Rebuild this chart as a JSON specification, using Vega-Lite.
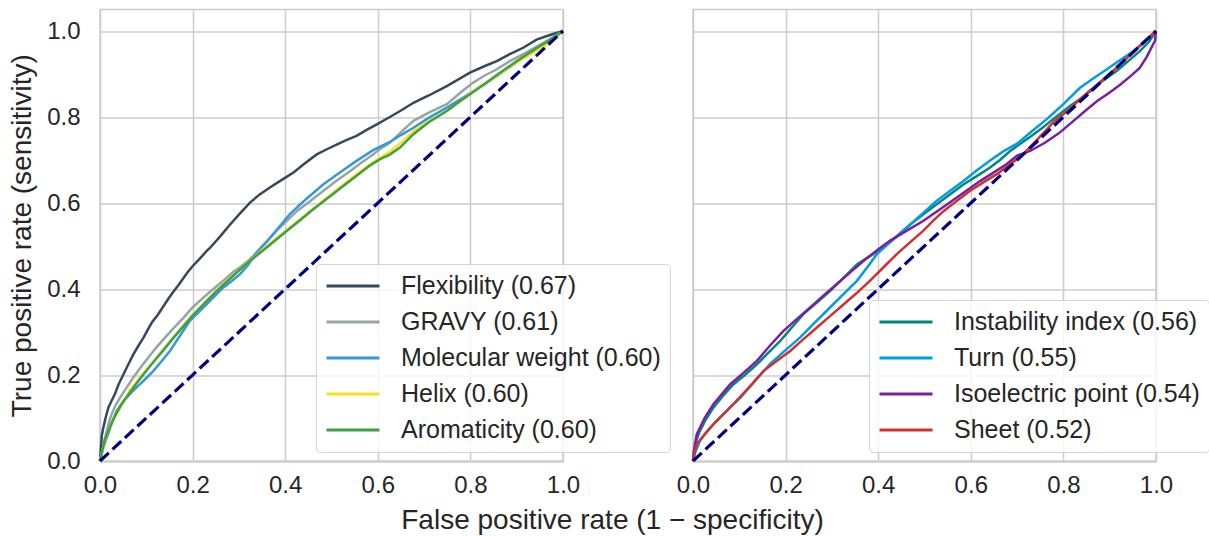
{
  "$schema": "https://vega.github.io/schema/vega-lite/v6.json",
  "padding": {"left": 7, "top": 8.5, "right": 0, "bottom": 0},
  "background": "white",
  "config": {
    "font": "Liberation Sans",
    "view": {"stroke": "#cccccc", "strokeWidth": 1.5},
    "axis": {"grid": true, "gridColor": "#cccccc", "gridWidth": 1.5, "domain": false, "ticks": false, "tickSize": 0, "labelFlush": false, "labelFontSize": 24, "labelColor": "#262626", "titleFontSize": 28, "titleColor": "#262626", "titleFontWeight": "normal", "labelFont": "Liberation Sans", "titleFont": "Liberation Sans"},
    "legend": {"symbolType": "stroke", "symbolSize": 2809, "symbolStrokeWidth": 3, "clipHeight": 26, "rowPadding": 10, "labelOffset": 20, "labelFontSize": 25, "labelColor": "#262626", "labelFont": "Liberation Sans", "padding": 9, "fillColor": "rgba(255,255,255,0.8)", "strokeColor": "#d4d4d4", "cornerRadius": 4, "labelLimit": 600}
  },
  "datasets": {
    "left": [
      {"s":"Flexibility (0.67)","x":0,"y":0},{"s":"Flexibility (0.67)","x":0.002,"y":0.03},{"s":"Flexibility (0.67)","x":0.004,"y":0.06},{"s":"Flexibility (0.67)","x":0.007,"y":0.077},{"s":"Flexibility (0.67)","x":0.012,"y":0.1},{"s":"Flexibility (0.67)","x":0.018,"y":0.124},{"s":"Flexibility (0.67)","x":0.025,"y":0.14},{"s":"Flexibility (0.67)","x":0.032,"y":0.155},{"s":"Flexibility (0.67)","x":0.04,"y":0.178},{"s":"Flexibility (0.67)","x":0.05,"y":0.2},{"s":"Flexibility (0.67)","x":0.06,"y":0.222},{"s":"Flexibility (0.67)","x":0.072,"y":0.248},{"s":"Flexibility (0.67)","x":0.083,"y":0.268},{"s":"Flexibility (0.67)","x":0.094,"y":0.287},{"s":"Flexibility (0.67)","x":0.103,"y":0.305},{"s":"Flexibility (0.67)","x":0.112,"y":0.322},{"s":"Flexibility (0.67)","x":0.125,"y":0.34},{"s":"Flexibility (0.67)","x":0.137,"y":0.36},{"s":"Flexibility (0.67)","x":0.148,"y":0.378},{"s":"Flexibility (0.67)","x":0.158,"y":0.393},{"s":"Flexibility (0.67)","x":0.17,"y":0.41},{"s":"Flexibility (0.67)","x":0.18,"y":0.425},{"s":"Flexibility (0.67)","x":0.19,"y":0.44},{"s":"Flexibility (0.67)","x":0.2,"y":0.453},{"s":"Flexibility (0.67)","x":0.215,"y":0.47},{"s":"Flexibility (0.67)","x":0.23,"y":0.488},{"s":"Flexibility (0.67)","x":0.238,"y":0.496},{"s":"Flexibility (0.67)","x":0.26,"y":0.523},{"s":"Flexibility (0.67)","x":0.281,"y":0.55},{"s":"Flexibility (0.67)","x":0.3,"y":0.573},{"s":"Flexibility (0.67)","x":0.324,"y":0.601},{"s":"Flexibility (0.67)","x":0.345,"y":0.62},{"s":"Flexibility (0.67)","x":0.367,"y":0.636},{"s":"Flexibility (0.67)","x":0.39,"y":0.652},{"s":"Flexibility (0.67)","x":0.418,"y":0.671},{"s":"Flexibility (0.67)","x":0.44,"y":0.69},{"s":"Flexibility (0.67)","x":0.468,"y":0.713},{"s":"Flexibility (0.67)","x":0.49,"y":0.725},{"s":"Flexibility (0.67)","x":0.511,"y":0.736},{"s":"Flexibility (0.67)","x":0.532,"y":0.746},{"s":"Flexibility (0.67)","x":0.554,"y":0.756},{"s":"Flexibility (0.67)","x":0.576,"y":0.77},{"s":"Flexibility (0.67)","x":0.598,"y":0.783},{"s":"Flexibility (0.67)","x":0.626,"y":0.8},{"s":"Flexibility (0.67)","x":0.65,"y":0.815},{"s":"Flexibility (0.67)","x":0.677,"y":0.833},{"s":"Flexibility (0.67)","x":0.71,"y":0.85},{"s":"Flexibility (0.67)","x":0.749,"y":0.872},{"s":"Flexibility (0.67)","x":0.775,"y":0.888},{"s":"Flexibility (0.67)","x":0.799,"y":0.903},{"s":"Flexibility (0.67)","x":0.83,"y":0.918},{"s":"Flexibility (0.67)","x":0.857,"y":0.93},{"s":"Flexibility (0.67)","x":0.885,"y":0.946},{"s":"Flexibility (0.67)","x":0.914,"y":0.961},{"s":"Flexibility (0.67)","x":0.943,"y":0.98},{"s":"Flexibility (0.67)","x":0.97,"y":0.99},{"s":"Flexibility (0.67)","x":1,"y":1},
      {"s":"GRAVY (0.61)","x":0,"y":0},{"s":"GRAVY (0.61)","x":0.004,"y":0.02},{"s":"GRAVY (0.61)","x":0.011,"y":0.054},{"s":"GRAVY (0.61)","x":0.018,"y":0.085},{"s":"GRAVY (0.61)","x":0.025,"y":0.109},{"s":"GRAVY (0.61)","x":0.034,"y":0.13},{"s":"GRAVY (0.61)","x":0.043,"y":0.147},{"s":"GRAVY (0.61)","x":0.057,"y":0.17},{"s":"GRAVY (0.61)","x":0.072,"y":0.194},{"s":"GRAVY (0.61)","x":0.088,"y":0.218},{"s":"GRAVY (0.61)","x":0.104,"y":0.24},{"s":"GRAVY (0.61)","x":0.12,"y":0.262},{"s":"GRAVY (0.61)","x":0.137,"y":0.283},{"s":"GRAVY (0.61)","x":0.158,"y":0.308},{"s":"GRAVY (0.61)","x":0.18,"y":0.333},{"s":"GRAVY (0.61)","x":0.2,"y":0.357},{"s":"GRAVY (0.61)","x":0.223,"y":0.38},{"s":"GRAVY (0.61)","x":0.245,"y":0.4},{"s":"GRAVY (0.61)","x":0.266,"y":0.419},{"s":"GRAVY (0.61)","x":0.288,"y":0.44},{"s":"GRAVY (0.61)","x":0.302,"y":0.45},{"s":"GRAVY (0.61)","x":0.32,"y":0.466},{"s":"GRAVY (0.61)","x":0.338,"y":0.484},{"s":"GRAVY (0.61)","x":0.36,"y":0.51},{"s":"GRAVY (0.61)","x":0.381,"y":0.535},{"s":"GRAVY (0.61)","x":0.403,"y":0.558},{"s":"GRAVY (0.61)","x":0.425,"y":0.581},{"s":"GRAVY (0.61)","x":0.455,"y":0.605},{"s":"GRAVY (0.61)","x":0.482,"y":0.628},{"s":"GRAVY (0.61)","x":0.51,"y":0.651},{"s":"GRAVY (0.61)","x":0.54,"y":0.674},{"s":"GRAVY (0.61)","x":0.565,"y":0.694},{"s":"GRAVY (0.61)","x":0.59,"y":0.713},{"s":"GRAVY (0.61)","x":0.605,"y":0.726},{"s":"GRAVY (0.61)","x":0.626,"y":0.74},{"s":"GRAVY (0.61)","x":0.65,"y":0.765},{"s":"GRAVY (0.61)","x":0.677,"y":0.791},{"s":"GRAVY (0.61)","x":0.71,"y":0.81},{"s":"GRAVY (0.61)","x":0.749,"y":0.83},{"s":"GRAVY (0.61)","x":0.78,"y":0.858},{"s":"GRAVY (0.61)","x":0.806,"y":0.88},{"s":"GRAVY (0.61)","x":0.83,"y":0.896},{"s":"GRAVY (0.61)","x":0.857,"y":0.911},{"s":"GRAVY (0.61)","x":0.885,"y":0.93},{"s":"GRAVY (0.61)","x":0.914,"y":0.946},{"s":"GRAVY (0.61)","x":0.94,"y":0.962},{"s":"GRAVY (0.61)","x":0.965,"y":0.977},{"s":"GRAVY (0.61)","x":1,"y":1},
      {"s":"Molecular weight (0.60)","x":0,"y":0},{"s":"Molecular weight (0.60)","x":0.003,"y":0.015},{"s":"Molecular weight (0.60)","x":0.007,"y":0.031},{"s":"Molecular weight (0.60)","x":0.015,"y":0.055},{"s":"Molecular weight (0.60)","x":0.022,"y":0.077},{"s":"Molecular weight (0.60)","x":0.029,"y":0.097},{"s":"Molecular weight (0.60)","x":0.036,"y":0.116},{"s":"Molecular weight (0.60)","x":0.046,"y":0.132},{"s":"Molecular weight (0.60)","x":0.057,"y":0.147},{"s":"Molecular weight (0.60)","x":0.07,"y":0.162},{"s":"Molecular weight (0.60)","x":0.086,"y":0.178},{"s":"Molecular weight (0.60)","x":0.1,"y":0.193},{"s":"Molecular weight (0.60)","x":0.115,"y":0.209},{"s":"Molecular weight (0.60)","x":0.133,"y":0.232},{"s":"Molecular weight (0.60)","x":0.151,"y":0.256},{"s":"Molecular weight (0.60)","x":0.172,"y":0.29},{"s":"Molecular weight (0.60)","x":0.194,"y":0.326},{"s":"Molecular weight (0.60)","x":0.212,"y":0.345},{"s":"Molecular weight (0.60)","x":0.23,"y":0.364},{"s":"Molecular weight (0.60)","x":0.248,"y":0.384},{"s":"Molecular weight (0.60)","x":0.266,"y":0.403},{"s":"Molecular weight (0.60)","x":0.284,"y":0.418},{"s":"Molecular weight (0.60)","x":0.302,"y":0.434},{"s":"Molecular weight (0.60)","x":0.32,"y":0.456},{"s":"Molecular weight (0.60)","x":0.338,"y":0.485},{"s":"Molecular weight (0.60)","x":0.36,"y":0.51},{"s":"Molecular weight (0.60)","x":0.385,"y":0.542},{"s":"Molecular weight (0.60)","x":0.41,"y":0.574},{"s":"Molecular weight (0.60)","x":0.446,"y":0.61},{"s":"Molecular weight (0.60)","x":0.482,"y":0.643},{"s":"Molecular weight (0.60)","x":0.518,"y":0.671},{"s":"Molecular weight (0.60)","x":0.554,"y":0.698},{"s":"Molecular weight (0.60)","x":0.59,"y":0.723},{"s":"Molecular weight (0.60)","x":0.626,"y":0.742},{"s":"Molecular weight (0.60)","x":0.65,"y":0.758},{"s":"Molecular weight (0.60)","x":0.677,"y":0.775},{"s":"Molecular weight (0.60)","x":0.71,"y":0.798},{"s":"Molecular weight (0.60)","x":0.749,"y":0.822},{"s":"Molecular weight (0.60)","x":0.78,"y":0.842},{"s":"Molecular weight (0.60)","x":0.806,"y":0.86},{"s":"Molecular weight (0.60)","x":0.83,"y":0.876},{"s":"Molecular weight (0.60)","x":0.857,"y":0.895},{"s":"Molecular weight (0.60)","x":0.885,"y":0.916},{"s":"Molecular weight (0.60)","x":0.914,"y":0.938},{"s":"Molecular weight (0.60)","x":0.94,"y":0.954},{"s":"Molecular weight (0.60)","x":0.965,"y":0.969},{"s":"Molecular weight (0.60)","x":1,"y":1},
      {"s":"Helix (0.60)","x":0,"y":0},{"s":"Helix (0.60)","x":0.004,"y":0.018},{"s":"Helix (0.60)","x":0.01,"y":0.045},{"s":"Helix (0.60)","x":0.018,"y":0.07},{"s":"Helix (0.60)","x":0.027,"y":0.09},{"s":"Helix (0.60)","x":0.036,"y":0.109},{"s":"Helix (0.60)","x":0.046,"y":0.128},{"s":"Helix (0.60)","x":0.057,"y":0.147},{"s":"Helix (0.60)","x":0.065,"y":0.167},{"s":"Helix (0.60)","x":0.075,"y":0.178},{"s":"Helix (0.60)","x":0.086,"y":0.194},{"s":"Helix (0.60)","x":0.104,"y":0.217},{"s":"Helix (0.60)","x":0.122,"y":0.24},{"s":"Helix (0.60)","x":0.14,"y":0.263},{"s":"Helix (0.60)","x":0.158,"y":0.287},{"s":"Helix (0.60)","x":0.176,"y":0.31},{"s":"Helix (0.60)","x":0.194,"y":0.333},{"s":"Helix (0.60)","x":0.212,"y":0.352},{"s":"Helix (0.60)","x":0.23,"y":0.372},{"s":"Helix (0.60)","x":0.255,"y":0.4},{"s":"Helix (0.60)","x":0.281,"y":0.426},{"s":"Helix (0.60)","x":0.302,"y":0.445},{"s":"Helix (0.60)","x":0.324,"y":0.465},{"s":"Helix (0.60)","x":0.35,"y":0.49},{"s":"Helix (0.60)","x":0.374,"y":0.512},{"s":"Helix (0.60)","x":0.41,"y":0.543},{"s":"Helix (0.60)","x":0.446,"y":0.574},{"s":"Helix (0.60)","x":0.482,"y":0.605},{"s":"Helix (0.60)","x":0.518,"y":0.636},{"s":"Helix (0.60)","x":0.554,"y":0.667},{"s":"Helix (0.60)","x":0.59,"y":0.695},{"s":"Helix (0.60)","x":0.626,"y":0.719},{"s":"Helix (0.60)","x":0.65,"y":0.74},{"s":"Helix (0.60)","x":0.677,"y":0.767},{"s":"Helix (0.60)","x":0.71,"y":0.79},{"s":"Helix (0.60)","x":0.749,"y":0.814},{"s":"Helix (0.60)","x":0.78,"y":0.838},{"s":"Helix (0.60)","x":0.806,"y":0.86},{"s":"Helix (0.60)","x":0.85,"y":0.89},{"s":"Helix (0.60)","x":0.893,"y":0.922},{"s":"Helix (0.60)","x":0.93,"y":0.946},{"s":"Helix (0.60)","x":0.965,"y":0.969},{"s":"Helix (0.60)","x":1,"y":1},
      {"s":"Aromaticity (0.60)","x":0,"y":0},{"s":"Aromaticity (0.60)","x":0.004,"y":0.02},{"s":"Aromaticity (0.60)","x":0.01,"y":0.048},{"s":"Aromaticity (0.60)","x":0.02,"y":0.075},{"s":"Aromaticity (0.60)","x":0.03,"y":0.1},{"s":"Aromaticity (0.60)","x":0.038,"y":0.116},{"s":"Aromaticity (0.60)","x":0.05,"y":0.138},{"s":"Aromaticity (0.60)","x":0.065,"y":0.16},{"s":"Aromaticity (0.60)","x":0.08,"y":0.182},{"s":"Aromaticity (0.60)","x":0.1,"y":0.21},{"s":"Aromaticity (0.60)","x":0.12,"y":0.236},{"s":"Aromaticity (0.60)","x":0.14,"y":0.262},{"s":"Aromaticity (0.60)","x":0.16,"y":0.288},{"s":"Aromaticity (0.60)","x":0.18,"y":0.313},{"s":"Aromaticity (0.60)","x":0.2,"y":0.338},{"s":"Aromaticity (0.60)","x":0.225,"y":0.366},{"s":"Aromaticity (0.60)","x":0.25,"y":0.393},{"s":"Aromaticity (0.60)","x":0.275,"y":0.418},{"s":"Aromaticity (0.60)","x":0.3,"y":0.443},{"s":"Aromaticity (0.60)","x":0.325,"y":0.466},{"s":"Aromaticity (0.60)","x":0.35,"y":0.488},{"s":"Aromaticity (0.60)","x":0.375,"y":0.51},{"s":"Aromaticity (0.60)","x":0.4,"y":0.532},{"s":"Aromaticity (0.60)","x":0.43,"y":0.558},{"s":"Aromaticity (0.60)","x":0.46,"y":0.585},{"s":"Aromaticity (0.60)","x":0.49,"y":0.61},{"s":"Aromaticity (0.60)","x":0.52,"y":0.635},{"s":"Aromaticity (0.60)","x":0.55,"y":0.66},{"s":"Aromaticity (0.60)","x":0.58,"y":0.685},{"s":"Aromaticity (0.60)","x":0.605,"y":0.702},{"s":"Aromaticity (0.60)","x":0.625,"y":0.712},{"s":"Aromaticity (0.60)","x":0.648,"y":0.729},{"s":"Aromaticity (0.60)","x":0.677,"y":0.76},{"s":"Aromaticity (0.60)","x":0.71,"y":0.788},{"s":"Aromaticity (0.60)","x":0.749,"y":0.814},{"s":"Aromaticity (0.60)","x":0.775,"y":0.835},{"s":"Aromaticity (0.60)","x":0.799,"y":0.853},{"s":"Aromaticity (0.60)","x":0.83,"y":0.876},{"s":"Aromaticity (0.60)","x":0.86,"y":0.9},{"s":"Aromaticity (0.60)","x":0.9,"y":0.93},{"s":"Aromaticity (0.60)","x":0.94,"y":0.958},{"s":"Aromaticity (0.60)","x":0.97,"y":0.978},{"s":"Aromaticity (0.60)","x":1,"y":1}
    ],
    "right": [
      {"s":"Instability index (0.56)","x":0,"y":0},{"s":"Instability index (0.56)","x":0.002,"y":0.023},{"s":"Instability index (0.56)","x":0.008,"y":0.05},{"s":"Instability index (0.56)","x":0.015,"y":0.07},{"s":"Instability index (0.56)","x":0.028,"y":0.097},{"s":"Instability index (0.56)","x":0.044,"y":0.124},{"s":"Instability index (0.56)","x":0.065,"y":0.152},{"s":"Instability index (0.56)","x":0.087,"y":0.178},{"s":"Instability index (0.56)","x":0.112,"y":0.2},{"s":"Instability index (0.56)","x":0.138,"y":0.225},{"s":"Instability index (0.56)","x":0.163,"y":0.252},{"s":"Instability index (0.56)","x":0.188,"y":0.279},{"s":"Instability index (0.56)","x":0.213,"y":0.31},{"s":"Instability index (0.56)","x":0.238,"y":0.341},{"s":"Instability index (0.56)","x":0.267,"y":0.368},{"s":"Instability index (0.56)","x":0.296,"y":0.395},{"s":"Instability index (0.56)","x":0.325,"y":0.426},{"s":"Instability index (0.56)","x":0.354,"y":0.457},{"s":"Instability index (0.56)","x":0.383,"y":0.477},{"s":"Instability index (0.56)","x":0.411,"y":0.496},{"s":"Instability index (0.56)","x":0.44,"y":0.523},{"s":"Instability index (0.56)","x":0.469,"y":0.55},{"s":"Instability index (0.56)","x":0.497,"y":0.573},{"s":"Instability index (0.56)","x":0.526,"y":0.597},{"s":"Instability index (0.56)","x":0.555,"y":0.62},{"s":"Instability index (0.56)","x":0.584,"y":0.643},{"s":"Instability index (0.56)","x":0.612,"y":0.662},{"s":"Instability index (0.56)","x":0.641,"y":0.682},{"s":"Instability index (0.56)","x":0.663,"y":0.7},{"s":"Instability index (0.56)","x":0.685,"y":0.721},{"s":"Instability index (0.56)","x":0.71,"y":0.74},{"s":"Instability index (0.56)","x":0.73,"y":0.755},{"s":"Instability index (0.56)","x":0.755,"y":0.775},{"s":"Instability index (0.56)","x":0.778,"y":0.795},{"s":"Instability index (0.56)","x":0.81,"y":0.822},{"s":"Instability index (0.56)","x":0.85,"y":0.853},{"s":"Instability index (0.56)","x":0.88,"y":0.88},{"s":"Instability index (0.56)","x":0.915,"y":0.907},{"s":"Instability index (0.56)","x":0.94,"y":0.93},{"s":"Instability index (0.56)","x":0.965,"y":0.953},{"s":"Instability index (0.56)","x":0.985,"y":0.975},{"s":"Instability index (0.56)","x":1,"y":1},
      {"s":"Turn (0.55)","x":0,"y":0},{"s":"Turn (0.55)","x":0.005,"y":0.02},{"s":"Turn (0.55)","x":0.015,"y":0.047},{"s":"Turn (0.55)","x":0.035,"y":0.075},{"s":"Turn (0.55)","x":0.058,"y":0.101},{"s":"Turn (0.55)","x":0.08,"y":0.124},{"s":"Turn (0.55)","x":0.102,"y":0.147},{"s":"Turn (0.55)","x":0.134,"y":0.186},{"s":"Turn (0.55)","x":0.166,"y":0.225},{"s":"Turn (0.55)","x":0.198,"y":0.256},{"s":"Turn (0.55)","x":0.231,"y":0.287},{"s":"Turn (0.55)","x":0.263,"y":0.322},{"s":"Turn (0.55)","x":0.296,"y":0.357},{"s":"Turn (0.55)","x":0.325,"y":0.388},{"s":"Turn (0.55)","x":0.354,"y":0.419},{"s":"Turn (0.55)","x":0.376,"y":0.45},{"s":"Turn (0.55)","x":0.397,"y":0.481},{"s":"Turn (0.55)","x":0.425,"y":0.508},{"s":"Turn (0.55)","x":0.454,"y":0.535},{"s":"Turn (0.55)","x":0.49,"y":0.57},{"s":"Turn (0.55)","x":0.526,"y":0.605},{"s":"Turn (0.55)","x":0.555,"y":0.628},{"s":"Turn (0.55)","x":0.584,"y":0.651},{"s":"Turn (0.55)","x":0.612,"y":0.675},{"s":"Turn (0.55)","x":0.641,"y":0.698},{"s":"Turn (0.55)","x":0.67,"y":0.72},{"s":"Turn (0.55)","x":0.7,"y":0.738},{"s":"Turn (0.55)","x":0.73,"y":0.765},{"s":"Turn (0.55)","x":0.764,"y":0.795},{"s":"Turn (0.55)","x":0.8,"y":0.83},{"s":"Turn (0.55)","x":0.836,"y":0.868},{"s":"Turn (0.55)","x":0.865,"y":0.89},{"s":"Turn (0.55)","x":0.894,"y":0.911},{"s":"Turn (0.55)","x":0.922,"y":0.932},{"s":"Turn (0.55)","x":0.951,"y":0.953},{"s":"Turn (0.55)","x":0.975,"y":0.975},{"s":"Turn (0.55)","x":1,"y":1},
      {"s":"Isoelectric point (0.54)","x":0,"y":0},{"s":"Isoelectric point (0.54)","x":0.003,"y":0.03},{"s":"Isoelectric point (0.54)","x":0.008,"y":0.062},{"s":"Isoelectric point (0.54)","x":0.025,"y":0.1},{"s":"Isoelectric point (0.54)","x":0.044,"y":0.132},{"s":"Isoelectric point (0.54)","x":0.062,"y":0.155},{"s":"Isoelectric point (0.54)","x":0.08,"y":0.178},{"s":"Isoelectric point (0.54)","x":0.109,"y":0.205},{"s":"Isoelectric point (0.54)","x":0.138,"y":0.233},{"s":"Isoelectric point (0.54)","x":0.166,"y":0.268},{"s":"Isoelectric point (0.54)","x":0.195,"y":0.302},{"s":"Isoelectric point (0.54)","x":0.224,"y":0.33},{"s":"Isoelectric point (0.54)","x":0.253,"y":0.357},{"s":"Isoelectric point (0.54)","x":0.281,"y":0.384},{"s":"Isoelectric point (0.54)","x":0.31,"y":0.411},{"s":"Isoelectric point (0.54)","x":0.339,"y":0.438},{"s":"Isoelectric point (0.54)","x":0.368,"y":0.465},{"s":"Isoelectric point (0.54)","x":0.396,"y":0.489},{"s":"Isoelectric point (0.54)","x":0.425,"y":0.512},{"s":"Isoelectric point (0.54)","x":0.461,"y":0.535},{"s":"Isoelectric point (0.54)","x":0.497,"y":0.558},{"s":"Isoelectric point (0.54)","x":0.533,"y":0.585},{"s":"Isoelectric point (0.54)","x":0.569,"y":0.612},{"s":"Isoelectric point (0.54)","x":0.595,"y":0.632},{"s":"Isoelectric point (0.54)","x":0.62,"y":0.651},{"s":"Isoelectric point (0.54)","x":0.648,"y":0.67},{"s":"Isoelectric point (0.54)","x":0.677,"y":0.69},{"s":"Isoelectric point (0.54)","x":0.7,"y":0.71},{"s":"Isoelectric point (0.54)","x":0.728,"y":0.721},{"s":"Isoelectric point (0.54)","x":0.76,"y":0.74},{"s":"Isoelectric point (0.54)","x":0.79,"y":0.762},{"s":"Isoelectric point (0.54)","x":0.822,"y":0.791},{"s":"Isoelectric point (0.54)","x":0.848,"y":0.815},{"s":"Isoelectric point (0.54)","x":0.873,"y":0.837},{"s":"Isoelectric point (0.54)","x":0.9,"y":0.857},{"s":"Isoelectric point (0.54)","x":0.924,"y":0.876},{"s":"Isoelectric point (0.54)","x":0.945,"y":0.895},{"s":"Isoelectric point (0.54)","x":0.965,"y":0.914},{"s":"Isoelectric point (0.54)","x":0.98,"y":0.94},{"s":"Isoelectric point (0.54)","x":0.99,"y":0.961},{"s":"Isoelectric point (0.54)","x":0.998,"y":0.978},{"s":"Isoelectric point (0.54)","x":1,"y":1},
      {"s":"Sheet (0.52)","x":0,"y":0},{"s":"Sheet (0.52)","x":0.003,"y":0.02},{"s":"Sheet (0.52)","x":0.008,"y":0.039},{"s":"Sheet (0.52)","x":0.025,"y":0.062},{"s":"Sheet (0.52)","x":0.044,"y":0.085},{"s":"Sheet (0.52)","x":0.065,"y":0.108},{"s":"Sheet (0.52)","x":0.087,"y":0.132},{"s":"Sheet (0.52)","x":0.12,"y":0.17},{"s":"Sheet (0.52)","x":0.152,"y":0.209},{"s":"Sheet (0.52)","x":0.18,"y":0.232},{"s":"Sheet (0.52)","x":0.21,"y":0.256},{"s":"Sheet (0.52)","x":0.238,"y":0.283},{"s":"Sheet (0.52)","x":0.267,"y":0.31},{"s":"Sheet (0.52)","x":0.296,"y":0.337},{"s":"Sheet (0.52)","x":0.325,"y":0.364},{"s":"Sheet (0.52)","x":0.353,"y":0.39},{"s":"Sheet (0.52)","x":0.382,"y":0.419},{"s":"Sheet (0.52)","x":0.411,"y":0.45},{"s":"Sheet (0.52)","x":0.44,"y":0.481},{"s":"Sheet (0.52)","x":0.468,"y":0.508},{"s":"Sheet (0.52)","x":0.497,"y":0.535},{"s":"Sheet (0.52)","x":0.52,"y":0.56},{"s":"Sheet (0.52)","x":0.541,"y":0.581},{"s":"Sheet (0.52)","x":0.57,"y":0.605},{"s":"Sheet (0.52)","x":0.598,"y":0.628},{"s":"Sheet (0.52)","x":0.627,"y":0.648},{"s":"Sheet (0.52)","x":0.656,"y":0.667},{"s":"Sheet (0.52)","x":0.685,"y":0.69},{"s":"Sheet (0.52)","x":0.713,"y":0.713},{"s":"Sheet (0.52)","x":0.75,"y":0.755},{"s":"Sheet (0.52)","x":0.78,"y":0.79},{"s":"Sheet (0.52)","x":0.81,"y":0.815},{"s":"Sheet (0.52)","x":0.85,"y":0.855},{"s":"Sheet (0.52)","x":0.9,"y":0.9},{"s":"Sheet (0.52)","x":0.95,"y":0.95},{"s":"Sheet (0.52)","x":1,"y":1}
    ],
    "diag": [{"x":0,"y":0},{"x":1,"y":1}]
  },
  "spacing": 130,
  "bounds": "flush",
  "resolve": {"scale": {"color": "independent"}, "legend": {"color": "independent"}},
  "hconcat": [
    {
      "width": 463,
      "height": 451.5,
      "encoding": {
        "x": {"field": "x", "type": "quantitative", "scale": {"domain": [0, 1], "nice": false, "zero": false}, "axis": {"values": [0, 0.2, 0.4, 0.6, 0.8, 1], "format": ".1f", "labelPadding": 12, "title": "False positive rate (1 − specificity)", "titleX": 512, "titleY": 67, "titleBaseline": "alphabetic", "titleAlign": "center"}},
        "y": {"field": "y", "type": "quantitative", "scale": {"domain": [0, 1.05], "nice": false, "zero": false}, "axis": {"values": [0, 0.2, 0.4, 0.6, 0.8, 1], "format": ".1f", "labelPadding": 20, "title": "True positive rate (sensitivity)", "titlePadding": 10}}
      },
      "layer": [
        {
          "data": {"name": "left"},
          "mark": {"type": "line", "strokeWidth": 2.5},
          "encoding": {
            "color": {"field": "s", "type": "nominal", "scale": {"domain": ["Flexibility (0.67)", "GRAVY (0.61)", "Molecular weight (0.60)", "Helix (0.60)", "Aromaticity (0.60)"], "range": ["#34495e", "#95a5a6", "#3498db", "#f9e11e", "#3f9f42"]}, "legend": {"title": null, "orient": "none", "legendX": 216, "legendY": 254.5}}
          }
        },
        {
          "data": {"name": "diag"},
          "mark": {"type": "line", "color": "#000080", "strokeWidth": 3.2, "strokeDash": [12, 5]},
          "encoding": {}
        }
      ]
    },
    {
      "width": 463,
      "height": 451.5,
      "encoding": {
        "x": {"field": "x", "type": "quantitative", "scale": {"domain": [0, 1], "nice": false, "zero": false}, "axis": {"values": [0, 0.2, 0.4, 0.6, 0.8, 1], "format": ".1f", "labelPadding": 12, "title": null}},
        "y": {"field": "y", "type": "quantitative", "scale": {"domain": [0, 1.05], "nice": false, "zero": false}, "axis": {"values": [0, 0.2, 0.4, 0.6, 0.8, 1], "labels": false, "title": null}}
      },
      "layer": [
        {
          "data": {"name": "right"},
          "mark": {"type": "line", "strokeWidth": 2.5},
          "encoding": {
            "color": {"field": "s", "type": "nominal", "scale": {"domain": ["Instability index (0.56)", "Turn (0.55)", "Isoelectric point (0.54)", "Sheet (0.52)"], "range": ["#00897b", "#039be5", "#7b1fa2", "#d32f2f"]}, "legend": {"title": null, "orient": "none", "legendX": 176, "legendY": 290.5}}
          }
        },
        {
          "data": {"name": "diag"},
          "mark": {"type": "line", "color": "#000080", "strokeWidth": 3.2, "strokeDash": [12, 5]},
          "encoding": {}
        }
      ]
    }
  ]
}
